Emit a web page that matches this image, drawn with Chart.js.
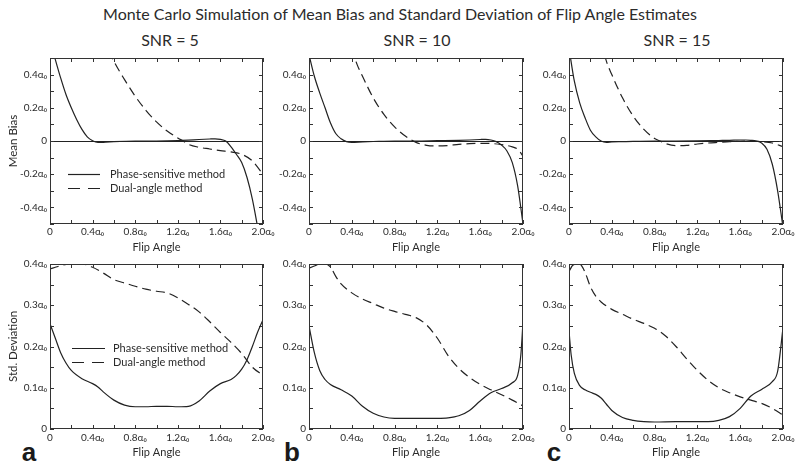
<!DOCTYPE html>
<html><head><meta charset="utf-8">
<script src="https://cdn.jsdelivr.net/npm/chart.js@4.4.1/dist/chart.umd.min.js"></script>
<style>
html,body{margin:0;padding:0;background:#fff;}
#wrap{position:relative;width:800px;height:469px;overflow:hidden;font-family:Lato,sans-serif;color:#2b2b2b;background:#fff;}
#wrap canvas{position:absolute;}
.t{position:absolute;white-space:nowrap;transform:translate(-50%,-50%);line-height:1.2;}
.lt{font-family:"Liberation Sans",Arial,sans-serif;font-weight:bold;font-size:26px;color:#1a1a1a;}
</style></head><body>
<div id="wrap">
<div class="t" style="left:400px;top:14px;font-size:16px">Monte Carlo Simulation of Mean Bias and Standard Deviation of Flip Angle Estimates</div>
<div class="t" style="left:170px;top:40px;font-size:16px">SNR = 5</div>
<div class="t" style="left:417px;top:40px;font-size:16px">SNR = 10</div>
<div class="t" style="left:677px;top:40px;font-size:16px">SNR = 15</div>
<div class="t lt" style="left:29px;top:453px">a</div>
<div class="t lt" style="left:292px;top:453px">b</div>
<div class="t lt" style="left:554px;top:453px">c</div>
</div>
<script>
// ---------- DATA (flip angle in units of alpha0) ----------
const seriesLabels = ['Phase-sensitive method', 'Dual-angle method'];

// SNR = 5, mean bias
const biasPhase5X = [0,0.05,0.1,0.15,0.2,0.25,0.3,0.35,0.4,0.45,0.5,0.6,0.8,1.0,1.2,1.3,1.4,1.5,1.55,1.6,1.65,1.7,1.75,1.8,1.85,1.9,1.95,2.0];
const biasPhase5Y = [0.6,0.49,0.38,0.28,0.2,0.13,0.07,0.025,0.002,-0.008,-0.008,-0.004,0,0,0.002,0.005,0.009,0.012,0.013,0.01,0.0,-0.035,-0.08,-0.13,-0.22,-0.35,-0.52,-0.7];
const biasDual5X = [0.5,0.6,0.7,0.8,0.9,1.0,1.1,1.2,1.25,1.3,1.4,1.5,1.6,1.7,1.8,1.9,2.0];
const biasDual5Y = [0.62,0.48,0.37,0.27,0.185,0.115,0.06,0.018,0.0,-0.02,-0.038,-0.048,-0.058,-0.066,-0.08,-0.12,-0.2];
// SNR = 5, std. deviation
const sdPhase5X = [0,0.05,0.1,0.15,0.2,0.3,0.4,0.45,0.5,0.6,0.7,0.8,0.9,1.0,1.1,1.2,1.3,1.4,1.5,1.6,1.7,1.75,1.8,1.85,1.9,1.95,2.0];
const sdPhase5Y = [0.255,0.22,0.185,0.16,0.142,0.122,0.11,0.102,0.09,0.07,0.058,0.054,0.054,0.055,0.055,0.054,0.055,0.068,0.092,0.11,0.12,0.13,0.145,0.168,0.2,0.235,0.265];
const sdDual5X = [0,0.05,0.1,0.2,0.3,0.4,0.5,0.6,0.7,0.8,0.9,1.0,1.1,1.2,1.3,1.4,1.5,1.6,1.7,1.8,1.9,2.0];
const sdDual5Y = [0.388,0.392,0.396,0.4,0.4,0.392,0.378,0.362,0.354,0.346,0.339,0.334,0.33,0.318,0.302,0.284,0.26,0.234,0.21,0.183,0.15,0.13];

// SNR = 10, mean bias
const biasPhase10X = [0,0.05,0.1,0.15,0.2,0.25,0.3,0.35,0.4,0.5,0.6,0.8,1.0,1.2,1.4,1.5,1.6,1.65,1.7,1.75,1.8,1.85,1.9,1.95,2.0];
const biasPhase10Y = [0.52,0.39,0.29,0.2,0.11,0.045,0.013,-0.004,-0.008,-0.005,-0.003,0,0,0.002,0.004,0.006,0.009,0.01,0.006,-0.004,-0.025,-0.06,-0.13,-0.27,-0.5];
const biasDual10X = [0.4,0.45,0.5,0.6,0.7,0.8,0.9,1.0,1.1,1.2,1.3,1.4,1.5,1.6,1.7,1.8,1.9,1.95,2.0];
const biasDual10Y = [0.56,0.46,0.39,0.26,0.16,0.085,0.03,-0.008,-0.026,-0.03,-0.027,-0.02,-0.016,-0.014,-0.015,-0.022,-0.035,-0.05,-0.09];
// SNR = 10, std. deviation
const sdPhase10X = [0,0.05,0.1,0.15,0.2,0.3,0.4,0.5,0.6,0.7,0.8,1.0,1.2,1.3,1.4,1.5,1.6,1.7,1.8,1.9,1.95,1.98,2.0];
const sdPhase10Y = [0.25,0.185,0.142,0.12,0.108,0.095,0.08,0.055,0.038,0.029,0.026,0.026,0.026,0.027,0.032,0.045,0.068,0.088,0.098,0.112,0.13,0.18,0.26];
const sdDual10X = [0,0.05,0.1,0.15,0.2,0.25,0.3,0.4,0.5,0.6,0.7,0.8,0.9,1.0,1.1,1.2,1.3,1.4,1.5,1.6,1.7,1.8,1.9,2.0];
const sdDual10Y = [0.39,0.395,0.4,0.4,0.393,0.37,0.352,0.33,0.315,0.304,0.293,0.285,0.278,0.27,0.252,0.22,0.178,0.147,0.125,0.108,0.095,0.083,0.07,0.056];

// SNR = 15, mean bias
const biasPhase15X = [0,0.05,0.1,0.15,0.2,0.25,0.3,0.35,0.4,0.5,0.6,0.8,1.0,1.2,1.4,1.5,1.6,1.65,1.7,1.75,1.8,1.85,1.9,1.95,2.0];
const biasPhase15Y = [0.56,0.36,0.23,0.14,0.065,0.025,0.0,-0.008,-0.006,-0.004,-0.002,0,0,0.001,0.003,0.004,0.006,0.006,0.004,0.0,-0.012,-0.05,-0.14,-0.3,-0.52];
const biasDual15X = [0.3,0.35,0.4,0.5,0.6,0.7,0.8,0.85,0.9,1.0,1.1,1.2,1.3,1.4,1.5,1.6,1.7,1.8,1.9,2.0];
const biasDual15Y = [0.6,0.48,0.4,0.26,0.15,0.07,0.015,0.0,-0.015,-0.028,-0.026,-0.018,-0.012,-0.008,-0.004,-0.002,0.0,-0.004,-0.012,-0.034];
// SNR = 15, std. deviation
const sdPhase15X = [0,0.02,0.05,0.1,0.15,0.2,0.25,0.3,0.35,0.4,0.5,0.6,0.7,0.8,1.0,1.2,1.3,1.4,1.5,1.6,1.7,1.8,1.9,1.95,2.0];
const sdPhase15Y = [0.238,0.18,0.135,0.105,0.095,0.089,0.084,0.075,0.06,0.045,0.028,0.021,0.018,0.017,0.018,0.018,0.018,0.021,0.03,0.05,0.08,0.096,0.115,0.14,0.245];
const sdDual15X = [0,0.04,0.1,0.12,0.15,0.2,0.25,0.3,0.4,0.5,0.6,0.7,0.8,0.9,1.0,1.1,1.2,1.3,1.4,1.5,1.6,1.7,1.8,1.9,2.0];
const sdDual15Y = [0.382,0.398,0.4,0.395,0.38,0.345,0.322,0.308,0.29,0.278,0.266,0.256,0.244,0.226,0.2,0.17,0.142,0.118,0.1,0.088,0.078,0.07,0.062,0.05,0.034];

const xAxisTitle = 'Flip Angle';
const yTitles = ['Mean Bias', 'Std. Deviation'];

// ---------- RENDERING ----------
const INK = '#222', TXT = '#2b2b2b', FONT = 'Lato';
const pts = (xs, ys) => xs.map((x, i) => ({x, y: ys[i]}));

const framePlugin = {
  id: 'frame',
  afterDatasetsDraw(chart) {
    const {ctx, chartArea: a, scales: {x, y}} = chart;
    ctx.save();
    ctx.strokeStyle = '#333'; ctx.lineWidth = 1; ctx.setLineDash([]);
    ctx.beginPath();
    x.ticks.forEach(t => {
      const px = Math.round(x.getPixelForValue(t.value)) + 0.5;
      ctx.moveTo(px, a.bottom); ctx.lineTo(px, a.bottom - 4);
      ctx.moveTo(px, a.top); ctx.lineTo(px, a.top + 4);
    });
    y.ticks.forEach(t => {
      const py = Math.round(y.getPixelForValue(t.value)) + 0.5;
      ctx.moveTo(a.left, py); ctx.lineTo(a.left + 4, py);
      ctx.moveTo(a.right, py); ctx.lineTo(a.right - 4, py);
    });
    ctx.stroke();
    ctx.strokeRect(Math.round(a.left) + 0.5, Math.round(a.top) + 0.5, Math.round(a.width) - 1, Math.round(a.height) - 1);
    ctx.restore();
  }
};

const legendPlugin = {
  id: 'inlegend',
  afterDatasetsDraw(chart, args, o) {
    if (!o || !o.show) return;
    const {ctx, chartArea: a} = chart;
    ctx.save();
    ctx.font = o.size + 'px ' + FONT;
    ctx.textBaseline = 'middle';
    ctx.fillStyle = TXT;
    chart.data.datasets.forEach((ds, i) => {
      const yy = Math.round(a.top + o.y + i * o.dy) + 0.5;
      ctx.strokeStyle = ds.borderColor; ctx.lineWidth = ds.borderWidth;
      ctx.setLineDash(ds.borderDash && ds.borderDash.length ? o.dash : []);
      ctx.beginPath(); ctx.moveTo(a.left + o.x, yy); ctx.lineTo(a.left + o.x + o.len, yy); ctx.stroke();
      ctx.setLineDash([]);
      ctx.fillText(ds.label, a.left + o.x + o.len + o.gap, yy);
    });
    ctx.restore();
  }
};

const panels = [
  {row:0, col:0, left:50,  top:57,  w:213, h:167, phase:[biasPhase5X,biasPhase5Y],  dual:[biasDual5X,biasDual5Y],
   legend:{show:true, x:18, y:116, dy:14, len:32, gap:10, size:11, dash:[12,8]}},
  {row:0, col:1, left:309, top:57,  w:214, h:167, phase:[biasPhase10X,biasPhase10Y], dual:[biasDual10X,biasDual10Y]},
  {row:0, col:2, left:569, top:57,  w:214, h:167, phase:[biasPhase15X,biasPhase15Y], dual:[biasDual15X,biasDual15Y]},
  {row:1, col:0, left:50,  top:263, w:213, h:166, phase:[sdPhase5X,sdPhase5Y],  dual:[sdDual5X,sdDual5Y],
   legend:{show:true, x:22, y:84, dy:14, len:33, gap:8, size:11, dash:[12,8]}},
  {row:1, col:1, left:309, top:263, w:214, h:166, phase:[sdPhase10X,sdPhase10Y], dual:[sdDual10X,sdDual10Y]},
  {row:1, col:2, left:569, top:263, w:214, h:166, phase:[sdPhase15X,sdPhase15Y], dual:[sdDual15X,sdDual15Y]},
];

const wrap = document.getElementById('wrap');
const YW = 50, PADT = 8, PADR = 16, XH = 32;

panels.forEach(p => {
  const cv = document.createElement('canvas');
  const W = YW + p.w + PADR, H = PADT + p.h + XH;
  cv.width = W; cv.height = H;
  cv.style.left = (p.left - YW) + 'px'; cv.style.top = (p.top - PADT) + 'px';
  cv.style.width = W + 'px'; cv.style.height = H + 'px';
  wrap.appendChild(cv);
  const top = p.row === 0;
  new Chart(cv, {
    type: 'line',
    data: {
      datasets: [
        {label: seriesLabels[0], data: pts(p.phase[0], p.phase[1]), borderColor: INK, borderWidth: 1.2,
         pointRadius: 0, cubicInterpolationMode: 'monotone', fill: false},
        {label: seriesLabels[1], data: pts(p.dual[0], p.dual[1]), borderColor: INK, borderWidth: 1.2,
         borderDash: [9, 5], pointRadius: 0, cubicInterpolationMode: 'monotone', fill: false}
      ]
    },
    options: {
      responsive: false, animation: false, devicePixelRatio: 1,
      layout: {padding: {top: PADT, right: PADR, left: 0, bottom: 0}},
      plugins: {legend: {display: false}, tooltip: {enabled: false}, inlegend: p.legend || {show: false}},
      scales: {
        x: {
          type: 'linear', min: 0, max: 2,
          ticks: {stepSize: 0.2, autoSkip: false, maxRotation: 0, padding: top ? 2 : 3, color: TXT,
            font: {family: FONT, size: 10},
            callback: v => { const k = Math.round(v * 10); if (k % 4 !== 0) return ''; return k === 0 ? '0' : (k / 10).toFixed(1) + 'α₀'; }},
          grid: {display: false, drawTicks: false}, border: {display: false},
          title: {display: true, text: xAxisTitle, color: TXT, font: {family: FONT, size: 11}, padding: {top: 0, bottom: 2}},
          afterFit: s => { s.height = XH; }
        },
        y: {
          type: 'linear', min: top ? -0.5 : 0, max: top ? 0.5 : 0.4,
          ticks: {stepSize: top ? 0.1 : 0.05, autoSkip: false, padding: 3, color: TXT, font: {family: FONT, size: 10},
            callback: top
              ? (v => { const k = Math.round(v * 10); if (k % 2 !== 0) return ''; return k === 0 ? '0' : (k / 10).toFixed(1) + 'α₀'; })
              : (v => { const k = Math.round(v * 20); if (k % 2 !== 0) return ''; return k === 0 ? '0' : (k / 20).toFixed(1) + 'α₀'; })},
          grid: {display: top, drawTicks: false, lineWidth: 1,
            color: c => (c.tick && Math.abs(c.tick.value) < 1e-9) ? INK : 'rgba(0,0,0,0)'},
          border: {display: false},
          title: {display: p.col === 0, text: yTitles[p.row], color: TXT, font: {family: FONT, size: 11.5}, padding: {top: 6, bottom: 0}},
          afterFit: s => { s.width = YW; }
        }
      }
    },
    plugins: [framePlugin, legendPlugin]
  });
});
</script>
</body></html>
